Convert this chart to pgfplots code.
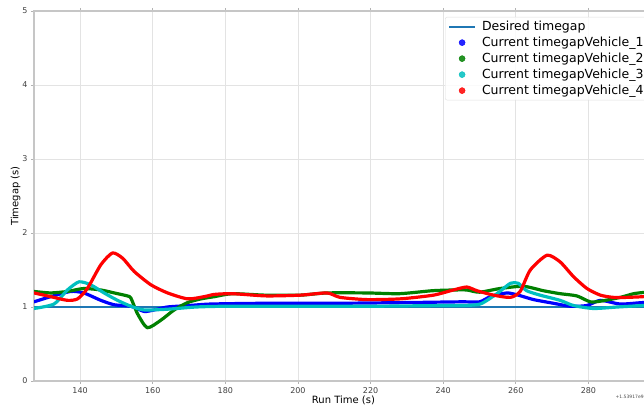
\documentclass[border=0pt]{standalone}
\usepackage{fontspec}
\setmainfont{DejaVu Sans}
\usepackage{pgfplots}
\pgfplotsset{compat=1.18}
\definecolor{mplblue}{RGB}{31,119,180}
\definecolor{vone}{RGB}{0,0,255}
\definecolor{vtwo}{RGB}{0,128,0}
\definecolor{vthree}{RGB}{0,191,191}
\definecolor{vfour}{RGB}{255,0,0}
\pgfplotsset{
  dotlegend/.style={legend image code/.code={\draw[##1] plot coordinates {(13pt,0pt)};}},
  linelegend/.style={legend image code/.code={\draw[##1] (0pt,0pt) -- (26pt,0pt);}},
  veh/.style={line width=3.2pt, line join=round, line cap=round, smooth, tension=0.4, forget plot},
}

\begin{document}
\begin{tikzpicture}
\begin{axis}[
    scale only axis,
    width=627pt, height=370pt,
    xmin=127.3, xmax=300, ymin=0, ymax=5,
    xtick={140,160,...,280}, ytick={0,1,...,5},
    grid=major,
    grid style={color=gray!22, line width=0.8pt},
    axis line style={gray!45, line width=1.3pt},
    tick style={gray!60, line width=0.8pt},
    tick align=outside, major tick length=3pt,
    /pgf/number format/assume math mode=true,
    ticklabel style={font=\fontsize{8}{9.5}\selectfont, text=black!75},
    xlabel={Run Time (s)}, ylabel={Timegap (s)},
    xlabel style={font=\fontsize{8.5}{10}\selectfont, text=black!85},
    ylabel style={font=\fontsize{7.5}{9}\selectfont, text=black!85},
    every axis y label/.style={at={(axis description cs:-0.0295,0.5)}, rotate=90, anchor=center},
    every axis x label/.style={at={(axis description cs:0.4936,-0.0514)}, anchor=center},
    clip mode=individual,
    legend cell align=left,
    legend style={at={(rel axis cs:0.6555,0.984)}, anchor=north west,
      font=\fontsize{12.5}{14.5}\selectfont, draw=gray!25, rounded corners=2pt,
      fill=white, fill opacity=0.85, text opacity=1, row sep=1pt,
      nodes={inner sep=2pt},
      /tikz/every odd column/.append style={column sep=4pt}},
]
\addplot[mplblue, line width=1.8pt, linelegend] coordinates {(127.3,1) (300,1)};
\addlegendentry{Desired timegap}
\addlegendimage{vone, only marks, mark=*, mark size=3pt, dotlegend}
\addlegendentry{Current timegapVehicle\_1}
\addlegendimage{vtwo, only marks, mark=*, mark size=3pt, dotlegend}
\addlegendentry{Current timegapVehicle\_2}
\addlegendimage{vthree, only marks, mark=*, mark size=3pt, dotlegend}
\addlegendentry{Current timegapVehicle\_3}
\addlegendimage{vfour, only marks, mark=*, mark size=3pt, dotlegend}
\addlegendentry{Current timegapVehicle\_4}

% Vehicle 1
\addplot[vone, veh] coordinates {
  (127.3,1.07) (131.9,1.14) (137.4,1.21) (141,1.19) (145.7,1.09) (149.4,1.03)
  (154,1.01) (157.6,0.94) (160.4,0.96) (164,1.00) (170,1.02) (176,1.04)
  (190,1.05) (210,1.05) (230,1.06) (245,1.07) (250,1.07) (253,1.14)
  (257.5,1.19) (260.7,1.16) (264.9,1.10) (270.4,1.05) (275,1.01) (279.6,1.02)
  (283.3,1.09) (288.8,1.04) (295,1.06) (300,1.06)
};
% Vehicle 2
\addplot[vtwo, veh] coordinates {
  (127.3,1.21) (131.9,1.19) (136.5,1.21) (141,1.25) (145.7,1.23) (149.4,1.19)
  (153,1.15) (154,1.12) (155.8,0.91) (158.5,0.72) (162.2,0.82) (165.9,0.96)
  (169.6,1.06) (173.3,1.11) (177,1.14) (182,1.18) (191,1.16) (200.6,1.16)
  (208,1.19) (219,1.19) (228,1.18) (237,1.22) (243,1.23) (246.5,1.23)
  (250,1.20) (255.7,1.25) (262.1,1.28) (267.6,1.22) (272.2,1.18) (276.8,1.15)
  (280.5,1.07) (283.5,1.08) (288.8,1.13) (292.5,1.18) (296,1.20) (300,1.21)
};
% Vehicle 3
\addplot[vthree, veh] coordinates {
  (127.3,0.98) (132.8,1.04) (136.5,1.23) (139.7,1.34) (142.9,1.30) (146.6,1.19)
  (150.3,1.09) (154,1.01) (157.6,0.96) (164,0.97) (172,1.00) (180,1.01)
  (200,1.01) (220,1.01) (240,1.02) (245,1.02) (250.2,1.04) (254.8,1.18)
  (258.5,1.32) (260.7,1.32) (263,1.22) (266.7,1.16) (272.2,1.09) (275.9,1.02)
  (281.4,0.98) (288,1.00) (295,1.02) (300,1.03)
};
% Vehicle 4
\addplot[vfour, veh] coordinates {
  (127.3,1.19) (131.9,1.14) (136.5,1.09) (139.3,1.11) (142,1.25) (145.7,1.57)
  (148.9,1.73) (151.7,1.66) (154.9,1.48) (159.5,1.30) (164.1,1.19) (169.6,1.11)
  (174.2,1.14) (177,1.17) (182,1.18) (191.2,1.15) (200.6,1.16) (208,1.19)
  (211.6,1.13) (219,1.10) (228.2,1.11) (237.3,1.16) (242.8,1.23) (246.5,1.27)
  (249.3,1.22) (253.9,1.16) (258.5,1.13) (261.2,1.21) (264,1.50) (268.6,1.70)
  (272.2,1.61) (275.9,1.41) (279.6,1.25) (283.3,1.16) (286.9,1.13) (290.6,1.13)
  (295.2,1.14) (300,1.16)
};
\node[anchor=west, font=\fontsize{4.5}{5}\selectfont, text=black!70]
  at (rel axis cs:0.922,-0.043) {+1.53917e9};
\end{axis}
\pgfresetboundingbox
\useasboundingbox (-34pt,-25pt) rectangle (610pt,381pt);
\end{tikzpicture}
\end{document}
